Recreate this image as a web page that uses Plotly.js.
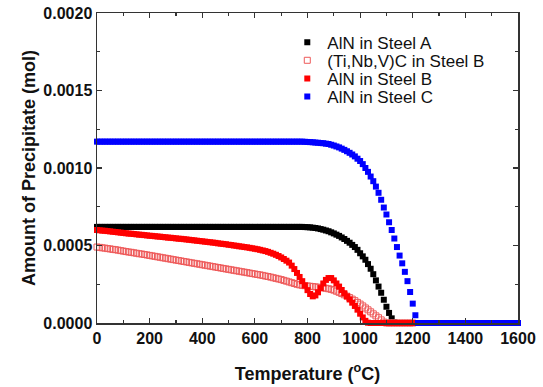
<!DOCTYPE html>
<html>
<head>
<meta charset="utf-8">
<script src="https://cdn.plot.ly/plotly-3.0.1.min.js"></script>
<style>html,body{margin:0;padding:0;background:#fff;}#chart{width:543px;height:387px;}</style>
</head>
<body>
<div id="chart"></div>
<script>
// Temperature grid (°C)
const temperatureC = [
0,10,20,30,40,50,60,70,80,90,100,110,120,130,140,150,160,170,180,190,
200,210,220,230,240,250,260,270,280,290,300,310,320,330,340,350,360,370,380,390,
400,410,420,430,440,450,460,470,480,490,500,510,520,530,540,550,560,570,580,590,
600,610,620,630,640,650,660,670,680,690,700,710,720,730,740,750,760,770,780,790,
800,810,820,830,840,850,860,870,880,890,900,910,920,930,940,950,960,970,980,990,
1000,1010,1020,1030,1040,1050,1060,1070,1080,1090,1100,1110,1120,1130,1140,1150,1160,1170,1180,1190,
1200,1210,1220,1230,1240,1250,1260,1270,1280,1290,1300,1310,1320,1330,1340,1350,1360,1370,1380,1390,
1400,1410,1420,1430,1440,1450,1460,1470,1480,1490,1500,1510,1520,1530,1540,1550,1560,1570,1580,1590,
1600];

// AlN in Steel A (mol), 0..1200 °C
const alnSteelA = [
0.000620,0.000620,0.000620,0.000620,0.000620,0.000620,0.000620,0.000620,0.000620,0.000620,
0.000620,0.000620,0.000620,0.000620,0.000620,0.000620,0.000620,0.000620,0.000620,0.000620,
0.000620,0.000620,0.000620,0.000620,0.000620,0.000620,0.000620,0.000620,0.000620,0.000620,
0.000620,0.000620,0.000620,0.000620,0.000620,0.000620,0.000620,0.000620,0.000620,0.000620,
0.000620,0.000620,0.000620,0.000620,0.000620,0.000620,0.000620,0.000620,0.000620,0.000620,
0.000620,0.000620,0.000620,0.000620,0.000620,0.000620,0.000620,0.000620,0.000620,0.000620,
0.000620,0.000620,0.000620,0.000620,0.000620,0.000620,0.000620,0.000620,0.000620,0.000620,
0.000620,0.000620,0.000620,0.000620,0.000620,0.000620,0.000620,0.000620,0.000620,0.000619,
0.000618,0.000617,0.000615,0.000613,0.000610,0.000606,0.000602,0.000597,0.000592,0.000585,
0.000578,0.000570,0.000562,0.000552,0.000542,0.000530,0.000518,0.000504,0.000490,0.000472,
0.000450,0.000430,0.000408,0.000380,0.000350,0.000315,0.000275,0.000235,0.000195,0.000150,
0.000105,0.000065,0.000030,0.000005,0,0,0,0,0,0,
0];

// (Ti,Nb,V)C in Steel B (mol), 0..1200 °C
const tinbvcSteelB = [
0.000490,0.000488,0.000485,0.000483,0.000480,0.000478,0.000475,0.000473,0.000470,0.000467,
0.000464,0.000461,0.000458,0.000456,0.000453,0.000450,0.000447,0.000445,0.000442,0.000439,
0.000436,0.000433,0.000430,0.000427,0.000424,0.000421,0.000418,0.000415,0.000412,0.000409,
0.000406,0.000403,0.000400,0.000397,0.000394,0.000391,0.000388,0.000385,0.000382,0.000379,
0.000376,0.000373,0.000370,0.000367,0.000364,0.000361,0.000358,0.000355,0.000352,0.000349,
0.000346,0.000343,0.000340,0.000337,0.000334,0.000331,0.000328,0.000325,0.000322,0.000319,
0.000316,0.000313,0.000310,0.000307,0.000303,0.000300,0.000296,0.000292,0.000288,0.000284,
0.000280,0.000275,0.000270,0.000265,0.000260,0.000255,0.000250,0.000246,0.000243,0.000241,
0.000239,0.000237,0.000235,0.000233,0.000231,0.000229,0.000227,0.000224,0.000221,0.000217,
0.000212,0.000205,0.000198,0.000190,0.000182,0.000173,0.000164,0.000154,0.000144,0.000133,
0.000122,0.000110,0.000097,0.000085,0.000072,0.000059,0.000046,0.000034,0.000020,0.000006,
0,0,0,0,0,0,0,0,0,0,
0];

// AlN in Steel B (mol), 0..1200 °C
const alnSteelB = [
0.000600,0.000598,0.000596,0.000595,0.000593,0.000591,0.000589,0.000587,0.000585,0.000583,
0.000581,0.000579,0.000577,0.000576,0.000574,0.000572,0.000570,0.000569,0.000567,0.000565,
0.000563,0.000562,0.000560,0.000558,0.000557,0.000555,0.000553,0.000551,0.000550,0.000548,
0.000546,0.000544,0.000543,0.000541,0.000539,0.000537,0.000535,0.000533,0.000531,0.000529,
0.000527,0.000525,0.000523,0.000521,0.000519,0.000517,0.000514,0.000512,0.000510,0.000508,
0.000505,0.000503,0.000500,0.000498,0.000495,0.000493,0.000490,0.000488,0.000485,0.000482,
0.000479,0.000476,0.000472,0.000468,0.000464,0.000459,0.000453,0.000447,0.000440,0.000432,
0.000423,0.000413,0.000402,0.000390,0.000370,0.000348,0.000323,0.000297,0.000270,0.000242,
0.000212,0.000187,0.000172,0.000178,0.000198,0.000225,0.000255,0.000278,0.000290,0.000290,
0.000275,0.000255,0.000235,0.000213,0.000192,0.000172,0.000152,0.000131,0.000110,0.000086,
0.000060,0.000036,0.000014,0.000002,0,0,0,0,0,0,
0,0,0,0,0,0,0,0,0,0,
0];

// AlN in Steel C (mol), 0..1600 °C
const alnSteelC = [
0.001170,0.001170,0.001170,0.001170,0.001170,0.001170,0.001170,0.001170,0.001170,0.001170,
0.001170,0.001170,0.001170,0.001170,0.001170,0.001170,0.001170,0.001170,0.001170,0.001170,
0.001170,0.001170,0.001170,0.001170,0.001170,0.001170,0.001170,0.001170,0.001170,0.001170,
0.001170,0.001170,0.001170,0.001170,0.001170,0.001170,0.001170,0.001170,0.001170,0.001170,
0.001170,0.001170,0.001170,0.001170,0.001170,0.001170,0.001170,0.001170,0.001170,0.001170,
0.001170,0.001170,0.001170,0.001170,0.001170,0.001170,0.001170,0.001170,0.001170,0.001170,
0.001170,0.001170,0.001170,0.001170,0.001170,0.001170,0.001170,0.001170,0.001170,0.001170,
0.001170,0.001170,0.001170,0.001170,0.001170,0.001170,0.001170,0.001170,0.001170,0.001169,
0.001168,0.001167,0.001166,0.001164,0.001163,0.001161,0.001160,0.001157,0.001155,0.001150,
0.001145,0.001139,0.001133,0.001125,0.001117,0.001108,0.001098,0.001087,0.001075,0.001060,
0.001045,0.001025,0.001000,0.000975,0.000945,0.000915,0.000880,0.000840,0.000795,0.000745,
0.000700,0.000650,0.000600,0.000545,0.000490,0.000435,0.000385,0.000330,0.000270,0.000200,
0.000125,0.000050,0,0,0,0,0,0,0,0,
0,0,0,0,0,0,0,0,0,0,
0,0,0,0,0,0,0,0,0,0,
0,0,0,0,0,0,0,0,0,0,
0];

const seriesNames = ['AlN in Steel A', '(Ti,Nb,V)C in Steel B', 'AlN in Steel B', 'AlN in Steel C'];
const xTickVals = [0,200,400,600,800,1000,1200,1400,1600];
const yTickVals = [0,0.0005,0.0010,0.0015,0.0020];

const FONT = 'Liberation Sans, Arial, sans-serif';

const traces = [
  {x: temperatureC, y: alnSteelA, name: seriesNames[0], type: 'scatter', mode: 'markers', cliponaxis: false,
   marker: {symbol: 'square', size: 6, color: '#000000'}, legend: 'legend'},
  {x: temperatureC, y: tinbvcSteelB, name: seriesNames[1], type: 'scatter', mode: 'markers', cliponaxis: false,
   marker: {symbol: 'square-open', size: 6, color: '#ee5a5a', line: {width: 1, color: '#ee5a5a'}}, legend: 'legend2'},
  {x: temperatureC, y: alnSteelB, name: seriesNames[2], type: 'scatter', mode: 'markers', cliponaxis: false,
   marker: {symbol: 'square', size: 6, color: '#ff0000'}, legend: 'legend3'},
  {x: temperatureC, y: alnSteelC, name: seriesNames[3], type: 'scatter', mode: 'markers', cliponaxis: false,
   marker: {symbol: 'square', size: 6, color: '#0000ff'}, legend: 'legend4'}
];

function leg(yc) {
  return {x: 0.452, xanchor: 'left', y: yc, yanchor: 'middle', bgcolor: 'rgba(0,0,0,0)',
          borderwidth: 0, font: {family: FONT, size: 17, color: '#111'}};
}

const axisCommon = {
  showline: true, linecolor: '#333', linewidth: 1.5, mirror: 'ticks',
  ticks: 'inside', ticklen: 5, tickwidth: 1.2, tickcolor: '#333',
  showgrid: false, zeroline: false,
  tickfont: {family: FONT, size: 16, color: '#111', weight: 'bold'}
};

const layout = {
  width: 543, height: 387,
  margin: {l: 97, r: 25, t: 13, b: 64},
  paper_bgcolor: '#ffffff', plot_bgcolor: '#ffffff',
  showlegend: true,
  legend: leg(0.904), legend2: leg(0.846), legend3: leg(0.787), legend4: leg(0.729),
  xaxis: Object.assign({}, axisCommon, {
    range: [0, 1600], tickvals: xTickVals, ticktext: xTickVals.map(String),
    minor: {dtick: 100, ticks: 'inside', ticklen: 3, tickcolor: '#333', tickwidth: 1.2},
    title: {text: 'Temperature (<sup>o</sup>C)', font: {family: FONT, size: 18, color: '#111', weight: 'bold'}, standoff: 21}
  }),
  yaxis: Object.assign({}, axisCommon, {
    range: [0, 0.002], tickvals: yTickVals, tickformat: '.4f',
    minor: {dtick: 0.00025, ticks: 'inside', ticklen: 3, tickcolor: '#333', tickwidth: 1.2},
    title: {text: 'Amount of Precipitate (mol)', font: {family: FONT, size: 18, color: '#111', weight: 'bold'}, standoff: 3}
  })
};

Plotly.newPlot('chart', traces, layout, {displayModeBar: false, staticPlot: true});
</script>
</body>
</html>
